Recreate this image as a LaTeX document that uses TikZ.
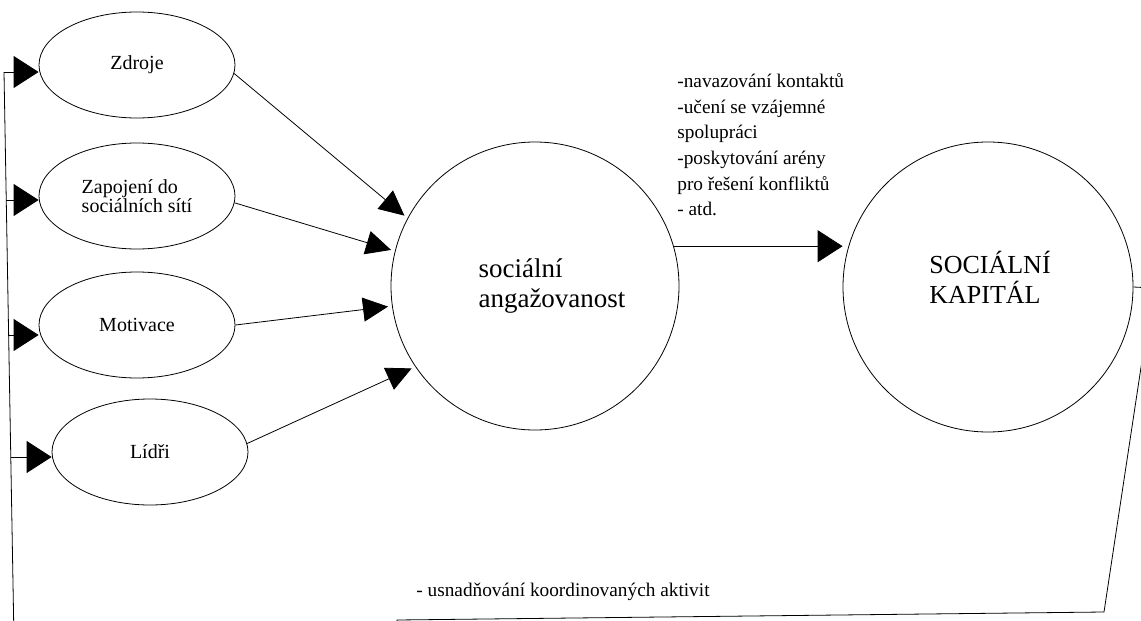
\documentclass[tikz,border=0pt]{standalone}
\usepackage{fontspec}
\setmainfont{Liberation Serif}
\usetikzlibrary{arrows.meta,shapes.geometric}

\begin{document}
\begin{tikzpicture}[x=1pt,y=-1pt,line width=0.8pt,
  faktor/.style={ellipse,draw,minimum width=196pt,minimum height=106pt,
    inner sep=0pt,align=left,font=\fontsize{20}{18}\selectfont},
  kruh/.style={circle,draw,inner sep=0pt},
  tok/.style={-{Triangle[length=25pt,width=24pt]},shorten >=4pt},
  vstup/.style={-{Triangle[length=25pt,width=32pt]}},
  popis/.style={inner sep=0pt,align=left,font=\fontsize{19.3}{25.7}\selectfont}]
	 \useasboundingbox (0,0) rectangle (1141,621);
	 \clip (0,0) rectangle (1141,621);

	 % factors on the left
	 \node (zdroje)   [faktor] at (137,65)  {Zdroje};
	 \node (zapojeni) [faktor] at (137,196) {Zapojení do\\sociálních sítí};
	 \node (motivace) [faktor] at (137,325) {Motivace};
	 \node (lidri)    [faktor] at (150,452) {Lídři};

	 % the two circles
	 \node (ang) [kruh,minimum size=288pt,
	   label={[xshift=17pt,align=left,font=\fontsize{27}{30}\selectfont]center:{sociální\\angažovanost}}]
	   at (535,286) {};
	 \node (kap) [kruh,minimum size=290pt,
	   label={[xshift=2pt,yshift=10pt,align=left,font=\fontsize{26}{30}\selectfont]center:{SOCIÁLNÍ\\KAPITÁL}}]
	   at (988,287) {};

	 \path[tok]
	   (zdroje.-5)   edge (ang.152.7)
	   (zapojeni.-4) edge (ang.166.6)
	   (motivace.east) edge (ang.188)
	   (lidri.5)     edge (ang.214);

	 \draw[vstup] (ang.16) -- (ang.16 -| kap.west);
	 \node (prinosy) [popis,anchor=north west] at (677,73)
	   {-navazování kontaktů\\-učení se vzájemné\\spolupráci\\-poskytování arény\\pro řešení konfliktů\\- atd.};

	 % feedback loop
	 \coordinate (l1) at (4,72);
	 \coordinate (l2) at (6,200);
	 \coordinate (l3) at (9,335);
	 \coordinate (l4) at (11,457);
	 \coordinate (fb1) at (1153,288);
	 \coordinate (fb2) at (1104,612);
	 \coordinate (fb3) at (397,620);
	 \draw (kap.east) -- (fb1) -- (fb2) -- (fb3) -- (397,640) -- (14,640) -- (l1);
	 \node (usnad) [popis,anchor=base west] at (416,596) {- usnadňování koordinovaných aktivit};

	 \draw[vstup] (l1) -- (l1 -| zdroje.west);
	 \draw[vstup] (l2) -- (l2 -| zapojeni.west);
	 \draw[vstup] (l3) -- (l3 -| motivace.west);
	 \draw[vstup] (l4) -- (l4 -| lidri.west);
	\end{tikzpicture}
\end{document}
